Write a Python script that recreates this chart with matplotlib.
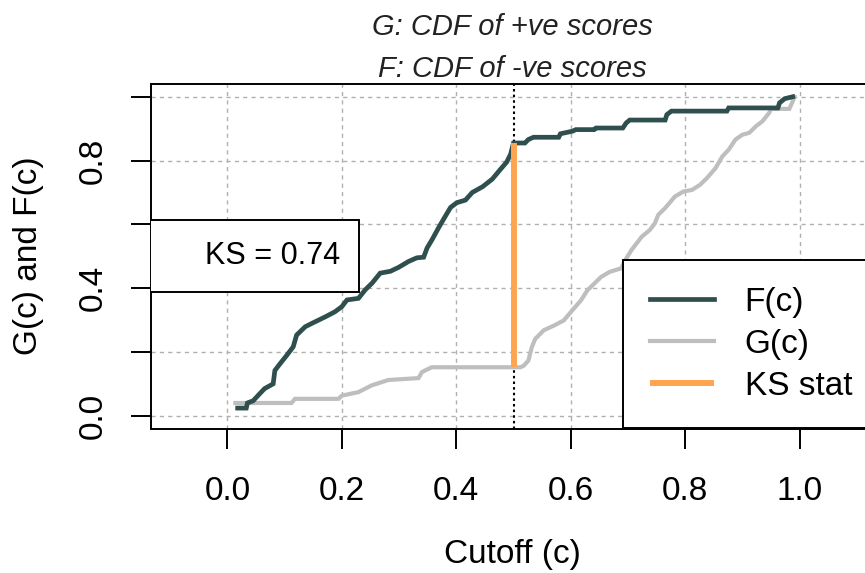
import matplotlib
matplotlib.use("Agg")
import matplotlib.pyplot as plt
from matplotlib.patches import Rectangle

plt.rcParams['font.family'] = ['Liberation Sans', 'DejaVu Sans']

# ---- data ----
F_x = [0.018, 0.033, 0.035, 0.045, 0.057, 0.065, 0.080, 0.083, 0.092, 0.104, 0.115, 0.121,
       0.136, 0.147, 0.171, 0.188, 0.200, 0.209, 0.229, 0.241, 0.253, 0.267, 0.285, 0.299,
       0.317, 0.331, 0.343, 0.349, 0.358, 0.369, 0.381, 0.390, 0.401, 0.416, 0.428, 0.446,
       0.463, 0.476, 0.488, 0.495, 0.500, 0.520, 0.526, 0.535, 0.579, 0.582, 0.603, 0.609,
       0.641, 0.644, 0.691, 0.697, 0.703, 0.765, 0.768, 0.776, 0.873, 0.876, 0.962, 0.965,
       0.974, 0.988]
F_y = [0.024, 0.024, 0.040, 0.047, 0.070, 0.085, 0.100, 0.142, 0.163, 0.190, 0.216, 0.253,
       0.279, 0.289, 0.310, 0.326, 0.342, 0.363, 0.368, 0.395, 0.416, 0.447, 0.453, 0.465,
       0.484, 0.495, 0.497, 0.526, 0.553, 0.589, 0.626, 0.653, 0.668, 0.676, 0.700, 0.718,
       0.742, 0.770, 0.795, 0.820, 0.855, 0.855, 0.866, 0.873, 0.873, 0.884, 0.892, 0.897,
       0.897, 0.902, 0.902, 0.918, 0.927, 0.927, 0.944, 0.955, 0.955, 0.965, 0.965, 0.981,
       0.994, 1.000]

G_x = [0.014, 0.112, 0.118, 0.194, 0.200, 0.229, 0.252, 0.281, 0.334, 0.340, 0.357, 0.512,
       0.518, 0.526, 0.532, 0.538, 0.553, 0.571, 0.588, 0.603, 0.618, 0.629, 0.641, 0.653,
       0.668, 0.688, 0.697, 0.706, 0.715, 0.724, 0.738, 0.747, 0.753, 0.765, 0.782, 0.797,
       0.812, 0.826, 0.838, 0.853, 0.865, 0.876, 0.888, 0.900, 0.912, 0.924, 0.935, 0.947,
       0.950, 0.982, 0.988, 0.991]
G_y = [0.040, 0.040, 0.053, 0.053, 0.063, 0.074, 0.095, 0.112, 0.118, 0.137, 0.152, 0.152,
       0.157, 0.173, 0.215, 0.241, 0.268, 0.283, 0.299, 0.331, 0.362, 0.393, 0.414, 0.435,
       0.451, 0.462, 0.493, 0.519, 0.540, 0.561, 0.582, 0.603, 0.630, 0.651, 0.687, 0.703,
       0.708, 0.724, 0.745, 0.776, 0.813, 0.834, 0.866, 0.881, 0.887, 0.908, 0.923, 0.950,
       0.962, 0.962, 0.986, 1.000]

ks_cutoff = 0.5
ks_low = 0.152
ks_high = 0.855
ks_label = 0.74

x_ticks = [0.0, 0.2, 0.4, 0.6, 0.8, 1.0]
x_ticklabels = ['0.0', '0.2', '0.4', '0.6', '0.8', '1.0']
y_ticks = [0.0, 0.2, 0.4, 0.6, 0.8, 1.0]
y_ticklabels = ['0.0', '', '0.4', '', '0.8', '']
legend_labels = ['F(c)', 'G(c)', 'KS stat']
title_lines = ['G: CDF of +ve scores', 'F: CDF of -ve scores']
x_label = 'Cutoff (c)'
y_label = 'G(c) and F(c)'

# ---- figure ----
W, H = 865, 573
fig = plt.figure(figsize=(W / 100, H / 100), dpi=100)
left_px, right_px, top_px, bot_px = 151, 876, 84, 428.5
ax = fig.add_axes([left_px / W, 1 - bot_px / H, (right_px - left_px) / W, (bot_px - top_px) / H])
ax.set_xlim(-0.1335, 1.1335)
ax.set_ylim(-0.04, 1.04)

c_F = '#2F4F4F'
c_G = '#BEBEBE'
c_KS = '#FFA54F'

ax.set_axisbelow(True)
ax.grid(True, color='#b0b0b0', linestyle=(0, (3, 3)), linewidth=1.0)
ax.axvline(ks_cutoff, color='black', linestyle=(0, (1.2, 1.5)), linewidth=1.5, zorder=1.5)

lG, = ax.plot(G_x, G_y, color=c_G, lw=3.0, solid_joinstyle='miter', zorder=2)
lF, = ax.plot(F_x, F_y, color=c_F, lw=3.4, solid_joinstyle='miter', zorder=3)
lK, = ax.plot([ks_cutoff, ks_cutoff], [ks_low, ks_high], color=c_KS, lw=4.3,
              solid_capstyle='butt', zorder=4)

# KS box (clipped at the left of the plot region)
ax.add_patch(Rectangle((-0.5, 0.388), 0.5 + 0.2306, 0.614 - 0.388, facecolor='white',
                       edgecolor='black', lw=1.4, zorder=5, clip_on=True))
ax.text(0.197, 0.50, f'KS = {ks_label:.2f}', ha='right', va='center', fontsize=22, zorder=6)

leg = ax.legend([lF, lG, lK], legend_labels, loc='upper left',
                bbox_to_anchor=((623 - left_px) / (right_px - left_px),
                                (bot_px - 260) / (bot_px - top_px)),
                borderaxespad=0, fontsize=24, handlelength=1.92, handletextpad=0.93,
                borderpad=0.8, labelspacing=0.33, frameon=True, fancybox=False,
                framealpha=1, edgecolor='black')
leg.get_frame().set_linewidth(1.4)
leg.set_zorder(7)

for s in ax.spines.values():
    s.set_linewidth(1.4)
    s.set_color('black')

ax.set_xticks(x_ticks)
ax.set_xticklabels(x_ticklabels, fontsize=24)
ax.set_yticks(y_ticks)
ax.set_yticklabels(y_ticklabels, fontsize=24, rotation=90, va='center')
ax.tick_params(axis='both', direction='out', length=14.5, width=1.4, color='black')
ax.tick_params(axis='x', pad=20)
ax.tick_params(axis='y', pad=16)

fig.text(512 / W, 1 - 35 / H, title_lines[0], ha='center', va='baseline',
         fontsize=21, style='italic', color='#222222')
fig.text(512 / W, 1 - 77 / H, title_lines[1], ha='center', va='baseline',
         fontsize=21, style='italic', color='#222222')
fig.text(512 / W, 1 - 554 / H, x_label, ha='center', va='center', fontsize=24)
fig.text(29 / W, 1 - 256 / H, y_label, ha='center', va='center', rotation=90, fontsize=24)

fig.savefig('out.png', dpi=100)
